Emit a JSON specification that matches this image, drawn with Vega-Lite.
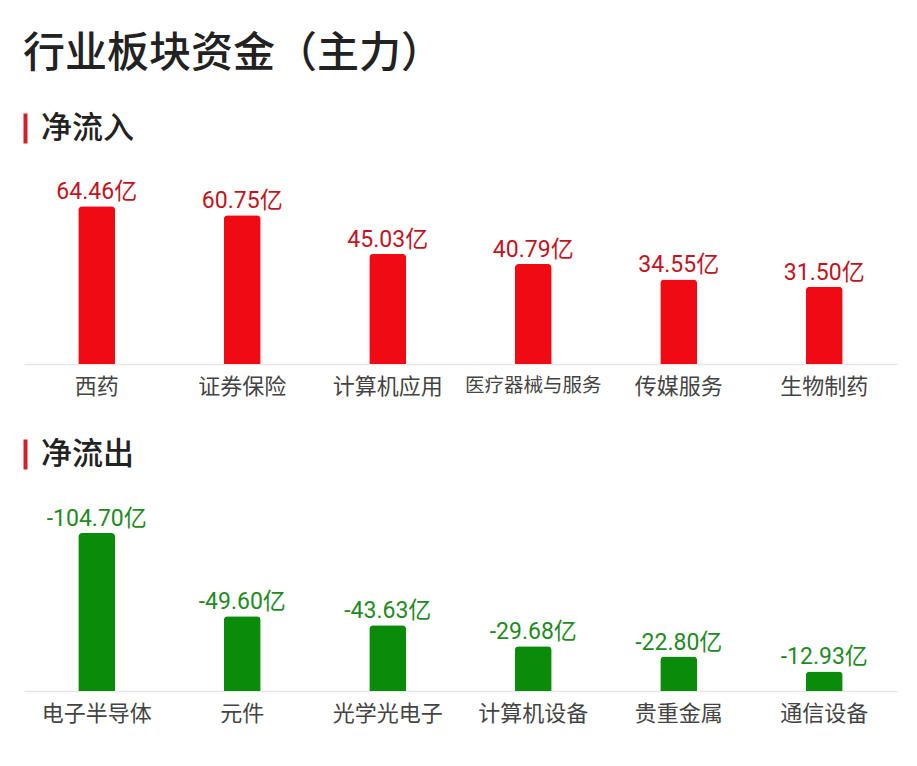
{
  "$schema": "https://vega.github.io/schema/vega-lite/v6.json",
  "background": "white",
  "padding": {"left": 10, "top": 33, "right": 20, "bottom": 10},
  "title": {"text": "行业板块资金（主力）", "anchor": "start", "fontSize": 42, "font": "Noto Sans CJK SC", "fontWeight": 500, "color": "#222222", "offset": 37, "dx": 13},
  "config": {"view": {"stroke": null}, "font": "Noto Sans CJK SC"},
  "spacing": 42,
  "resolve": {"scale": {"color": "independent", "stroke": "independent", "y": "independent"}, "legend": {"color": "independent", "stroke": "independent"}},
  "vconcat": [
    {
      "width": 873,
      "height": 180,
      "data": {"values": [
        {"sector": "西药", "value": 64.46, "label": "64.46亿", "section": "净流入"},
        {"sector": "证券保险", "value": 60.75, "label": "60.75亿", "section": "净流入"},
        {"sector": "计算机应用", "value": 45.03, "label": "45.03亿", "section": "净流入"},
        {"sector": "医疗器械与服务", "value": 40.79, "label": "40.79亿", "section": "净流入"},
        {"sector": "传媒服务", "value": 34.55, "label": "34.55亿", "section": "净流入"},
        {"sector": "生物制药", "value": 31.50, "label": "31.50亿", "section": "净流入"}
      ]},
      "encoding": {
        "x": {"field": "sector", "type": "nominal", "sort": null,
          "scale": {"paddingInner": 0.746, "paddingOuter": 0.373},
          "axis": {"title": null, "ticks": false, "domainColor": "#e6e6e6", "domainWidth": 1.5, "labelAngle": 0,
            "labelFontSize": {"condition": {"test": "datum.value === '医疗器械与服务'", "value": 19.5}, "value": 22},
            "labelColor": "#444444", "labelPadding": 12, "labelFont": "Noto Sans CJK SC"}}
      },
      "layer": [
        {"mark": {"type": "bar", "cornerRadiusTopLeft": 4, "cornerRadiusTopRight": 4, "fill": "#f00a14", "strokeWidth": 0},
          "encoding": {
            "y": {"field": "value", "type": "quantitative", "scale": {"domain": [0, 73.5]}, "axis": null},
            "stroke": {"field": "section", "type": "nominal", "scale": {"range": ["#d0202a"]},
              "legend": {"orient": "none", "legendX": -14, "legendY": -71, "title": null,
                "symbolType": "M0,-3.75V3.75", "symbolSize": 64, "symbolStrokeWidth": 4,
                "labelFontSize": 31, "labelColor": "#222222", "labelOffset": 0, "labelFont": "Noto Sans CJK SC", "labelFontWeight": 500}}
          }},
        {"mark": {"type": "text", "dy": -7, "baseline": "alphabetic", "fontSize": 23, "font": "Roboto, Noto Sans CJK SC", "color": "#c0141f"},
          "encoding": {
            "y": {"field": "value", "type": "quantitative", "scale": {"domain": [0, 73.5]}, "axis": null},
            "text": {"field": "label"}
          }}
      ]
    },
    {
      "width": 873,
      "height": 181,
      "data": {"values": [
        {"sector": "电子半导体", "value": -104.70, "label": "-104.70亿", "section": "净流出"},
        {"sector": "元件", "value": -49.60, "label": "-49.60亿", "section": "净流出"},
        {"sector": "光学光电子", "value": -43.63, "label": "-43.63亿", "section": "净流出"},
        {"sector": "计算机设备", "value": -29.68, "label": "-29.68亿", "section": "净流出"},
        {"sector": "贵重金属", "value": -22.80, "label": "-22.80亿", "section": "净流出"},
        {"sector": "通信设备", "value": -12.93, "label": "-12.93亿", "section": "净流出"}
      ]},
      "encoding": {
        "x": {"field": "sector", "type": "nominal", "sort": null,
          "scale": {"paddingInner": 0.746, "paddingOuter": 0.373},
          "axis": {"title": null, "ticks": false, "domainColor": "#e6e6e6", "domainWidth": 1.5, "labelAngle": 0,
            "labelFontSize": 22, "labelColor": "#444444", "labelPadding": 12, "labelFont": "Noto Sans CJK SC"}}
      },
      "layer": [
        {"mark": {"type": "bar", "cornerRadiusTopLeft": 4, "cornerRadiusTopRight": 4, "fill": "#0a8c0a", "strokeWidth": 0},
          "encoding": {
            "y": {"field": "value", "type": "quantitative", "scale": {"domain": [0, -120]}, "axis": null},
            "stroke": {"field": "section", "type": "nominal", "scale": {"range": ["#d0202a"]},
              "legend": {"orient": "none", "legendX": -14, "legendY": -71, "title": null,
                "symbolType": "M0,-3.75V3.75", "symbolSize": 64, "symbolStrokeWidth": 4,
                "labelFontSize": 31, "labelColor": "#222222", "labelOffset": 0, "labelFont": "Noto Sans CJK SC", "labelFontWeight": 500}}
          }},
        {"mark": {"type": "text", "dy": -7, "baseline": "alphabetic", "fontSize": 23, "font": "Roboto, Noto Sans CJK SC", "color": "#1f8a1f"},
          "encoding": {
            "y": {"field": "value", "type": "quantitative", "scale": {"domain": [0, -120]}, "axis": null},
            "text": {"field": "label"}
          }}
      ]
    }
  ]
}
